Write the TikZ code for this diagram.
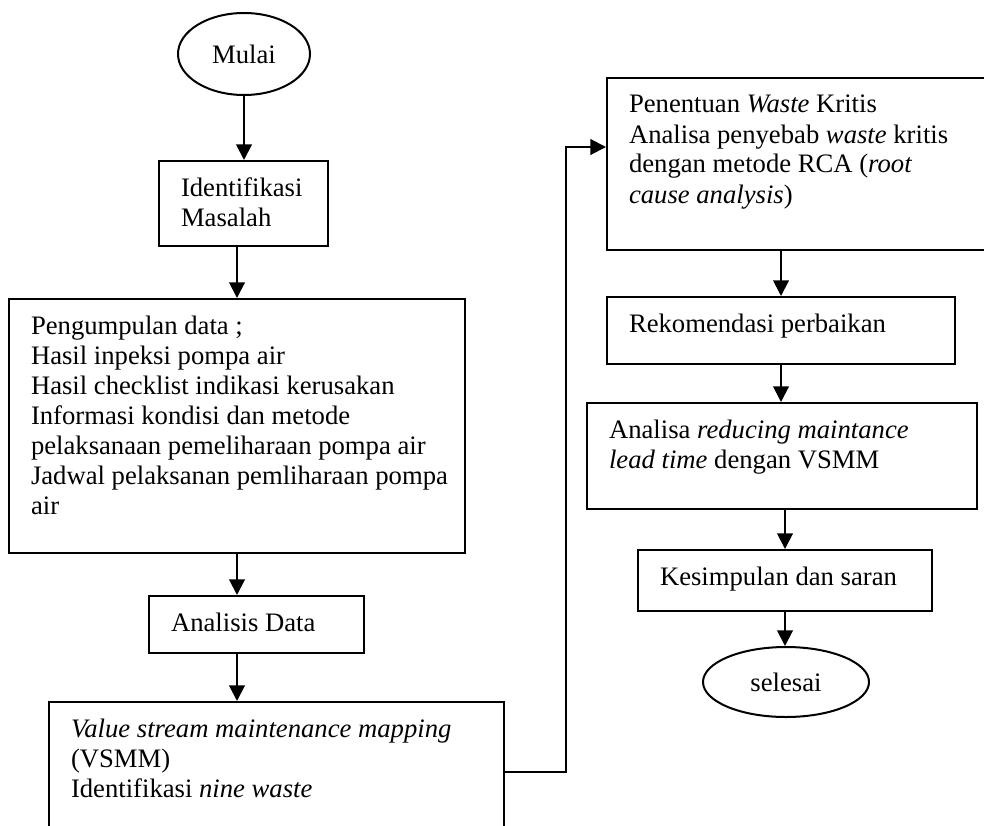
\documentclass[tikz,border=0pt]{standalone}
\usepackage{fontspec}
\setmainfont{Liberation Serif}
\usetikzlibrary{positioning, calc, shapes.geometric, arrows.meta}

\def\pxu{0.45pt}
% text of a box: width, height (in px), lines
\newcommand{\boxtxt}[3]{%
  \parbox[t][\dimexpr\pxu*#2\relax][t]{\dimexpr\pxu*#1\relax}{%
    \raggedright\leftskip=9.9pt\relax
    \vspace*{6.3pt}\strut#3}}

\tikzset{
  flowbox/.style={draw, line width=0.9pt, anchor=north west, inner sep=0pt},
  terminal/.style={draw, ellipse, line width=0.9pt, inner sep=0pt},
  flow/.style={->, line width=0.9pt},
}

\begin{document}
\begin{tikzpicture}[x=0.45pt, y=-0.45pt, font=\fontsize{12}{13.5}\selectfont,
    >={Triangle[length=7pt, width=7pt]}]
    \useasboundingbox (0,0) rectangle (984,825);
    \clip (0,0) rectangle (984,825);

    % Left column
    \node[terminal, minimum width=59.4pt, minimum height=36.9pt] (start) at (244,54) {Mulai};
    \node[flowbox] (ident) at (158,160) {\boxtxt{169}{85}{Identifikasi\\Masalah}};
    \node[flowbox] (collect) at (8,298) {\boxtxt{456}{254}{Pengumpulan data ;\\
        Hasil inpeksi pompa air\\
        Hasil checklist indikasi kerusakan\\
        Informasi kondisi dan metode\\
        pelaksanaan pemeliharaan pompa air\\
        Jadwal pelaksanan pemliharaan pompa\\
        air}};
    \node[flowbox] (analysis) at (148,595) {\boxtxt{215}{57}{Analisis Data}};
    \node[flowbox] (vsmm) at (48,701) {\boxtxt{455}{150}{\textit{Value stream maintenance mapping}\\
        (VSMM)\\
        Identifikasi \textit{nine waste}}};

    % Right column
    \node[flowbox] (critical) at (606,77) {\boxtxt{390}{172}{Penentuan \textit{Waste} Kritis\\
        Analisa penyebab \textit{waste} kritis\\
        dengan metode RCA (\textit{root}\\
        \textit{cause analysis})}};
    \node[flowbox] (recommend) at (606,296) {\boxtxt{348}{67}{Rekomendasi perbaikan}};
    \node[flowbox] (reduce) at (586,402) {\boxtxt{390}{106}{Analisa \textit{reducing maintance}\\
        \textit{lead time} dengan VSMM}};
    \node[flowbox] (conclude) at (637,549) {\boxtxt{294}{61}{Kesimpulan dan saran}};
    \node[terminal, minimum width=74.7pt, minimum height=31.5pt] (finish) at (786,682) {selesai};

    % Arrows
    \draw[flow] (start.south) -- (start.south |- ident.north);
    \draw[flow] (collect.north |- ident.south) -- (collect.north);
    \draw[flow] (collect.south) -- (collect.south |- analysis.north);
    \draw[flow] (analysis.south -| collect.south) -- (vsmm.north -| collect.south);
    \draw[flow] (vsmm.east |- 0,772) -| (566,147) -- (critical.west |- 0,147);
    \draw[flow] (recommend.north |- critical.south) -- (recommend.north);
    \draw[flow] (recommend.south) -- (recommend.south |- reduce.north);
    \draw[flow] (reduce.south -| conclude.north) -- (conclude.north);
    \draw[flow] (conclude.south) -- (conclude.south |- finish.north);
\end{tikzpicture}
\end{document}
